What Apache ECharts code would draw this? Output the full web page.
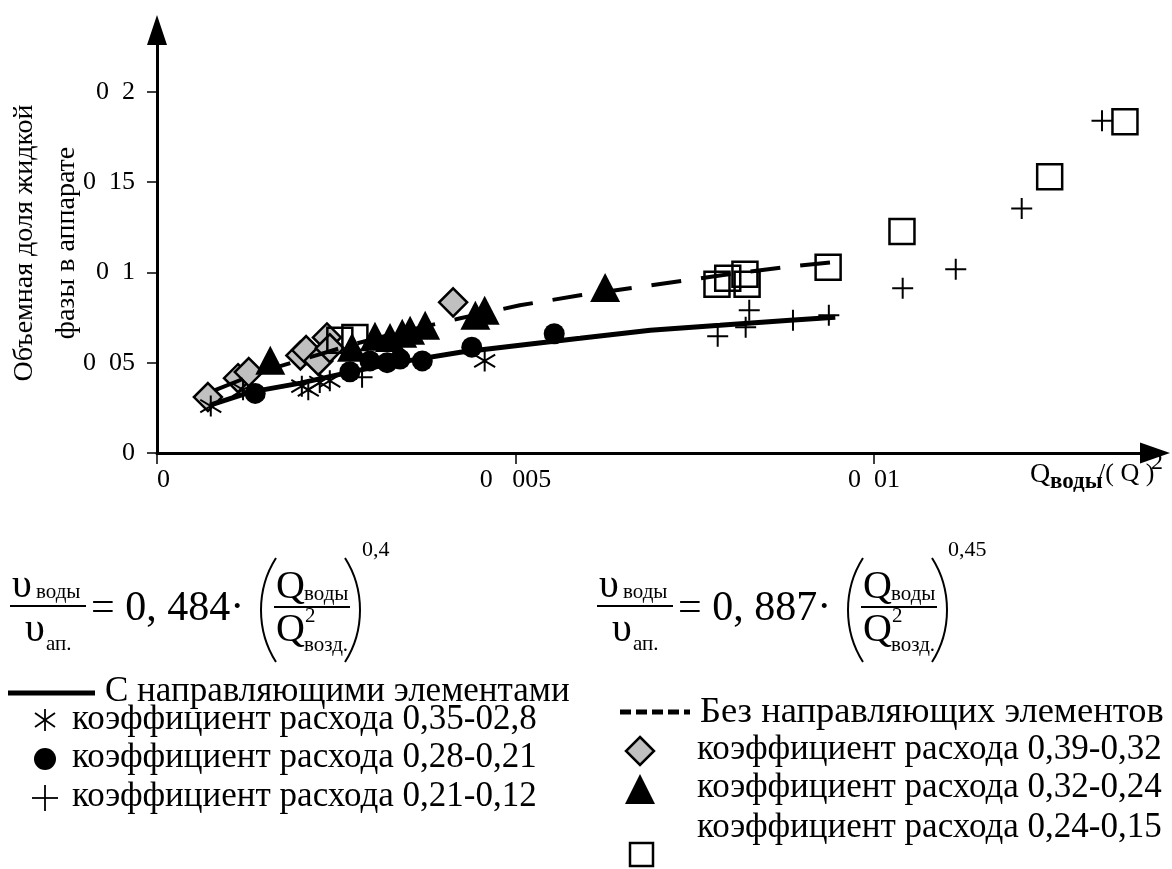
<!DOCTYPE html>
<html>
<head>
<meta charset="utf-8">
<script src="https://cdn.jsdelivr.net/npm/echarts/dist/echarts.min.js"></script>
<style>
    html, body { margin: 0; padding: 0; background: #fff; }
    #chart { width: 1172px; height: 869px; }
</style>
</head>
<body>
<div id="chart"></div>
<script>
// оси
const xTickValues = [0, 0.005, 0.01]
const xTickLabels = ['0', '0   005', '0  01']
const yTickValues = [0, 0.05, 0.1, 0.15, 0.2]
const yTickLabels = ['0', '0  05', '0  1', '0  15', '0  2']

// С направляющими элементами (сплошная)
const solidX = [0.00074, 0.0013, 0.002, 0.00269, 0.00339, 0.00423, 0.00506, 0.0059, 0.00688, 0.00785, 0.00883, 0.00946]
const solidY = [0.0265, 0.0337, 0.0387, 0.0448, 0.0503, 0.0558, 0.0597, 0.0635, 0.068, 0.0707, 0.0735, 0.0751]
// Без направляющих элементов (пунктир)
const dashX = [0.00081, 0.00144, 0.002, 0.00269, 0.00339, 0.00423, 0.00506, 0.0059, 0.00688, 0.00785, 0.00883, 0.00939]
const dashY = [0.0348, 0.0448, 0.0514, 0.0597, 0.0669, 0.0746, 0.0818, 0.0873, 0.0928, 0.0983, 0.1033, 0.1055]

// коэффициент расхода 0,35-02,8
const starX = [0.00075, 0.0012, 0.00202, 0.00211, 0.00227, 0.00241, 0.00457]
const starY = [0.026, 0.035, 0.037, 0.035, 0.039, 0.040, 0.051]
// коэффициент расхода 0,28-0,21
const dotX = [0.00137, 0.00269, 0.00297, 0.00321, 0.00339, 0.0037, 0.00439, 0.00554]
const dotY = [0.033, 0.045, 0.051, 0.050, 0.052, 0.051, 0.0586, 0.066]
// коэффициент расхода 0,21-0,12
const plusX = [0.00286, 0.00782, 0.00826, 0.00821, 0.00887, 0.00937, 0.0104, 0.01114, 0.01206, 0.01318]
const plusY = [0.042, 0.0646, 0.079, 0.0696, 0.0735, 0.0762, 0.0912, 0.1017, 0.1354, 0.184]
// коэффициент расхода 0,39-0,32
const diamondX = [0.00071, 0.00113, 0.00128, 0.002, 0.00208, 0.00225, 0.00237, 0.00241, 0.00413]
const diamondY = [0.031, 0.0414, 0.0448, 0.054, 0.057, 0.051, 0.064, 0.058, 0.0834]
// коэффициент расхода 0,32-0,24
const triX = [0.00158, 0.00272, 0.00304, 0.00325, 0.00342, 0.00353, 0.00374, 0.00444, 0.00457, 0.00625]
const triY = [0.0514, 0.0586, 0.0646, 0.064, 0.0663, 0.068, 0.0707, 0.0762, 0.079, 0.0917]
// коэффициент расхода 0,24-0,15
const sqX = [0.00255, 0.00276, 0.00781, 0.00796, 0.0082, 0.00823, 0.00936, 0.01039, 0.01245, 0.0135]
const sqY = [0.0624, 0.064, 0.0934, 0.0967, 0.0989, 0.0934, 0.1028, 0.1227, 0.153, 0.1834]

const zip = (xs, ys) => xs.map((x, i) => [x, ys[i]])

const FONT = '"Liberation Serif", "DejaVu Serif", serif'
const STAR = 'path://M10,0L10,20M1,4L19,16M1,16L19,4'
const PLUS = 'path://M10,0L10,20M0,10L20,10'

const chart = echarts.init(document.getElementById('chart'))

// помощники для графики
const txt = (text, x, y, size, extra, el) => Object.assign({
    type: 'text', x: x, y: y,
    style: Object.assign({ text: text, font: size + 'px ' + FONT, fill: '#000', textVerticalAlign: 'middle' }, extra || {})
}, el || {})
const bar = (x1, x2, y) => ({ type: 'line', shape: { x1: x1, y1: y, x2: x2, y2: y }, style: { stroke: '#000', lineWidth: 2 } })
const paren = (x, y1, y2, bulge) => ({
    type: 'bezierCurve',
    shape: { x1: x, y1: y1, x2: x, y2: y2, cpx1: x + bulge, cpy1: y1 + (y2 - y1) * 0.3, cpx2: x + bulge, cpy2: y1 + (y2 - y1) * 0.7 },
    style: { stroke: '#000', lineWidth: 2, fill: null }
})

// формула: x0 - левый край дроби, cx - начало Q в скобке
const formula = (x0, coef, pw, cx, pwx) => [
    txt('υ', x0 + 2, 586, 40),
    txt('воды', x0 + 26, 592, 21),
    bar(x0, x0 + 76, 606),
    txt('υ', x0 + 15, 630, 40),
    txt('ап.', x0 + 36, 644, 21),
    txt('= ' + coef + '·', x0 + 81, 609, 42),
    paren(cx, 558, 662, -20),
    txt('Q', cx, 587, 40),
    txt('воды', cx + 28, 594, 21),
    bar(cx - 2, cx + 74, 607),
    txt('Q', cx, 630, 40),
    txt('2', cx + 29, 616, 21),
    txt('возд.', cx + 28, 645, 21),
    paren(cx + 69, 558, 662, 20),
    txt(pw, pwx, 550, 22)
]

const legendLine = (x1, x2, y, dash) => ({
    type: 'line', shape: { x1: x1, y1: y, x2: x2, y2: y },
    style: { stroke: '#000', lineWidth: 5, lineDash: dash }
})
const stroke = { stroke: '#000', lineWidth: 1.8 }

const option = {
    backgroundColor: '#fff',
    animation: false,
    grid: { left: 157, right: 17, top: 30, bottom: 416 },
    xAxis: {
        type: 'value', min: 0, max: 0.013919,
        splitLine: { show: false },
        axisLine: { lineStyle: { color: '#000', width: 3 }, symbol: ['none', 'triangle'], symbolSize: [21, 30] },
        axisTick: { show: true, length: 11, customValues: xTickValues, lineStyle: { color: '#000', width: 1.5 } },
        axisLabel: {
            customValues: xTickValues, margin: 14, color: '#000', fontSize: 26, fontFamily: FONT,
            alignMinLabel: 'left',
            formatter: v => xTickLabels[xTickValues.findIndex(t => Math.abs(t - v) < 1e-9)] || ''
        }
    },
    yAxis: {
        type: 'value', min: 0, max: 0.2342,
        splitLine: { show: false },
        axisLine: { lineStyle: { color: '#000', width: 3 }, symbol: ['none', 'triangle'], symbolSize: [20, 30] },
        axisTick: { show: true, length: 10, customValues: yTickValues, lineStyle: { color: '#000', width: 1.5 } },
        axisLabel: {
            customValues: yTickValues, margin: 22, color: '#000', fontSize: 26, fontFamily: FONT,
            formatter: v => yTickLabels[yTickValues.findIndex(t => Math.abs(t - v) < 1e-9)] || ''
        }
    },
    series: [
        { name: 'коэффициент расхода 0,39-0,32', type: 'scatter', data: zip(diamondX, diamondY), symbol: 'diamond', symbolSize: 28,
          itemStyle: { color: '#c0c0c0', borderColor: '#000', borderWidth: 2.5, opacity: 1 } },
        { name: 'коэффициент расхода 0,24-0,15', type: 'scatter', data: zip(sqX, sqY), symbol: 'rect', symbolSize: 25,
          itemStyle: { color: 'transparent', borderColor: '#000', borderWidth: 2.5, opacity: 1 } },
        { name: 'коэффициент расхода 0,32-0,24', type: 'scatter', data: zip(triX, triY), symbol: 'triangle', symbolSize: [30, 29],
          itemStyle: { color: '#000', opacity: 1 } },
        { name: 'коэффициент расхода 0,28-0,21', type: 'scatter', data: zip(dotX, dotY), symbol: 'circle', symbolSize: 21,
          itemStyle: { color: '#000', opacity: 1 } },
        { name: 'коэффициент расхода 0,35-02,8', type: 'scatter', data: zip(starX, starY), symbol: STAR, symbolSize: 21,
          itemStyle: { color: 'transparent', borderColor: '#000', borderWidth: 2, opacity: 1 } },
        { name: 'коэффициент расхода 0,21-0,12', type: 'scatter', data: zip(plusX, plusY), symbol: PLUS, symbolSize: 21,
          itemStyle: { color: 'transparent', borderColor: '#000', borderWidth: 2, opacity: 1 } },
        { name: 'С направляющими элементами', type: 'line', data: zip(solidX, solidY), showSymbol: false, z: 5,
          lineStyle: { color: '#000', width: 5 } },
        { name: 'Без направляющих элементов', type: 'line', data: zip(dashX, dashY), showSymbol: false, z: 5,
          lineStyle: { color: '#000', width: 4, type: [30, 20] } }
    ],
    graphic: [
        // подпись оси Y
        txt('Объемная доля жидкой\nфазы в аппарате', 46, 243, 28,
            { textAlign: 'center', lineHeight: 42 }, { rotation: Math.PI / 2 }),
        // подпись оси X
        txt('Q', 1030, 475, 28),
        { type: 'text', x: 1050, y: 482, style: { text: 'воды', font: 'bold 23px ' + FONT, fill: '#000', textVerticalAlign: 'middle' } },
        txt('/( Q )', 1098, 474, 26),
        txt('2', 1151, 463, 24),
        // формулы
        ...formula(10, '0, 484', '0,4', 276, 362),
        ...formula(597, '0, 887', '0,45', 863, 948),
        // легенда слева
        legendLine(8, 95, 693, null),
        txt('С направляющими элементами', 105, 692, 35),
        txt('коэффициент расхода 0,35-02,8', 72, 720, 35),
        txt('коэффициент расхода 0,28-0,21', 72, 758, 35),
        txt('коэффициент расхода 0,21-0,12', 72, 797, 35),
        // легенда справа
        legendLine(620, 690, 712, [11, 5]),
        txt('Без направляющих элементов', 700, 712, 36.5),
        txt('коэффициент расхода 0,39-0,32', 697, 750, 35),
        txt('коэффициент расхода 0,32-0,24', 697, 788, 35),
        txt('коэффициент расхода 0,24-0,15', 697, 828, 35),
        // значки легенды
        { type: 'polygon', shape: { points: [[640, 737], [654, 751], [640, 765], [626, 751]] }, style: { fill: '#c0c0c0', stroke: '#000', lineWidth: 2.5 } },
        { type: 'polygon', shape: { points: [[640, 774], [655, 804], [625, 804]] }, style: { fill: '#000' } },
        { type: 'rect', shape: { x: 630, y: 843, width: 23, height: 23 }, style: { fill: 'none', stroke: '#000', lineWidth: 2.5 } },
        { type: 'circle', shape: { cx: 45, cy: 759, r: 11 }, style: { fill: '#000' } },
        { type: 'polyline', shape: { points: [[45, 709], [45, 731]] }, style: stroke },
        { type: 'polyline', shape: { points: [[35, 713], [55, 727]] }, style: stroke },
        { type: 'polyline', shape: { points: [[35, 727], [55, 713]] }, style: stroke },
        { type: 'polyline', shape: { points: [[45, 785], [45, 811]] }, style: stroke },
        { type: 'polyline', shape: { points: [[32, 798], [58, 798]] }, style: stroke }
    ]
}
chart.setOption(option)
</script>
</body>
</html>
